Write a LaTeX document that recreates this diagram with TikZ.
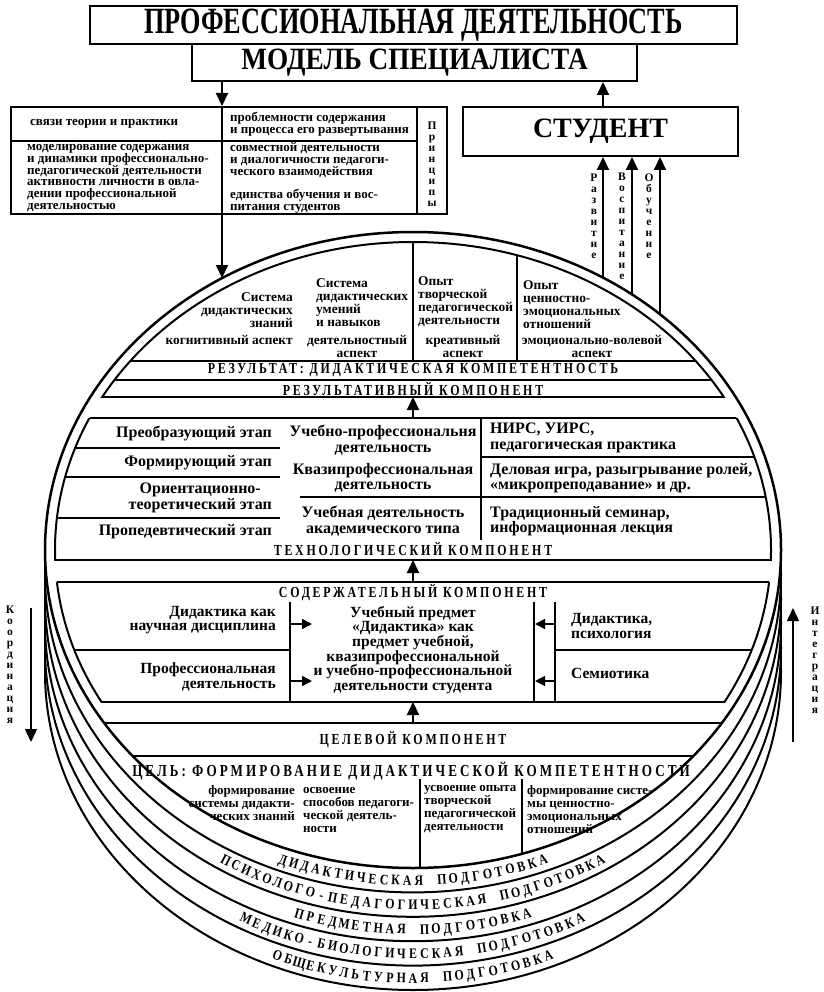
\documentclass[tikz,border=0pt]{standalone}
\usepackage{fontspec}
\setmainfont{Liberation Serif}
\newfontfamily\hdfont[LetterSpace=18,FakeStretch=0.78]{Liberation Serif}
\newfontfamily\arcfont[FakeStretch=0.82]{Liberation Serif}
\usetikzlibrary{arrows.meta}
\makeatletter
% letters placed one by one along the lower part of an ellipse
% #1 centre y of baseline ellipse, #2 number of slots, #3 step (deg), #4 letters (~ = space)
\newcommand\arctext[4]{%
  \def\at@i{0}%
  \@tfor\at@ch:=#4\do{%
    \pgfmathtruncatemacro\at@i{\at@i+1}%
    \pgfmathsetmacro\at@t{90+((#2+1)/2-\at@i)*#3}%
    \pgfmathsetmacro\at@x{413+368*cos(\at@t)}%
    \pgfmathsetmacro\at@y{#1+318*sin(\at@t)}%
    \pgfmathsetmacro\at@r{atan((318*cos(\at@t))/(368*sin(\at@t)))}%
    \node[arcl,rotate=\at@r] (arc#2-\at@i) at (\at@x,\at@y) {\at@ch};%
  }}
\makeatother
\begin{document}
\begin{tikzpicture}[x=1pt,y=-1pt,
  lw/.style={line width=2pt},
  bx/.style={draw,line width=2pt,inner sep=0pt},
  arr/.style={line width=2pt,-{Triangle[width=12pt,length=13pt]}},
  arrs/.style={line width=1.6pt,-{Triangle[width=10pt,length=10pt]}},
  arrside/.style={line width=1.4pt,-{Triangle[width=12pt,length=13pt]}},
  tp/.style={inner sep=0pt,font=\bfseries\fontsize{13}{11.8}\selectfont},
  ta/.style={inner sep=0pt,font=\bfseries\fontsize{13.4}{13}\selectfont},
  tt/.style={inner sep=0pt,font=\bfseries\fontsize{16}{15.5}\selectfont},
  tc/.style={inner sep=0pt,font=\bfseries\fontsize{15.5}{14.6}\selectfont},
  tg/.style={inner sep=0pt,font=\bfseries\fontsize{13}{13}\selectfont},
  hd/.style={inner sep=0pt,font=\hdfont\bfseries\fontsize{15.3}{15}\selectfont},
  vst/.style={inner sep=0pt,align=center,font=\bfseries\fontsize{11.5}{11}\selectfont},
  arcl/.style={inner sep=0pt,anchor=base,font=\arcfont\bfseries\fontsize{14.5}{14.5}\selectfont},
]
\useasboundingbox (0,0) rectangle (823,992);

% ---- stacked discs
\foreach \k in {5,4,3,2,1}{
  \draw[lw,fill=white] (413,{550+24.4*\k}) ellipse [x radius=368, y radius=318];
}
\draw[line width=2.5pt,fill=white] (413,550) ellipse [x radius=368, y radius=318];

\arctext{567.4}{24}{1.82}{ДИДАКТИЧЕСКАЯ~ПОДГОТОВКА}
\arctext{591.8}{35}{1.82}{ПСИХОЛОГО-ПЕДАГОГИЧЕСКАЯ~ПОДГОТОВКА}
\arctext{616.2}{21}{1.82}{ПРЕДМЕТНАЯ~ПОДГОТОВКА}
\arctext{640.6}{31}{1.82}{МЕДИКО-БИОЛОГИЧЕСКАЯ~ПОДГОТОВКА}
\arctext{665.0}{25}{1.82}{ОБЩЕКУЛЬТУРНАЯ~ПОДГОТОВКА}

% ---- result component
\begin{scope}
  \clip (0,0) rectangle (823,397);
  \draw[lw] (413,550) ellipse [x radius=358, y radius=308];
\end{scope}
\begin{scope}
  \clip (413,550) ellipse [x radius=358, y radius=308];
  \draw[lw] (0,361) -- (823,361) (0,380) -- (823,380) (0,397) -- (823,397)
            (413,200) -- (413,361) (517,200) -- (517,361);
\end{scope}

% ---- technological component
\begin{scope}
  \clip (0,418) rectangle (823,560);
  \draw[lw] (413,550) ellipse [x radius=358, y radius=308];
\end{scope}
\begin{scope}
  \clip (413,550) ellipse [x radius=358, y radius=308];
  \draw[lw] (0,418) -- (823,418) (0,560) -- (823,560)
            (0,448) -- (280,448) (0,477) -- (280,477) (0,518) -- (280,518)
            (481,457) -- (823,457) (300,497) -- (823,497) (481,418) -- (481,540);
\end{scope}

% ---- content component
\begin{scope}
  \clip (0,582) rectangle (823,702);
  \draw[lw] (413,550) ellipse [x radius=358, y radius=308];
\end{scope}
\begin{scope}
  \clip (413,550) ellipse [x radius=358, y radius=308];
  \draw[lw] (0,582) -- (823,582) (0,702) -- (823,702)
            (0,650) -- (290,650) (555,650) -- (823,650)
            (290,602) -- (290,702) (534,602) -- (534,702) (555,602) -- (555,702);
\end{scope}

% ---- goal component
\begin{scope}
  \clip (413,550) ellipse [x radius=368, y radius=318];
  \draw[lw] (0,723) -- (823,723) (0,756) -- (823,756)
            (420,779) -- (420,900) (522,779) -- (522,900);
\end{scope}

% ---- header
\node[bx,minimum width=647pt,minimum height=38pt] (pd) at (413.5,25)
  {\scalebox{0.71}[1]{\bfseries\fontsize{37}{37}\selectfont ПРОФЕССИОНАЛЬНАЯ ДЕЯТЕЛЬНОСТЬ}};
\node[bx,minimum width=445pt,minimum height=37pt] (ms) at (414.5,62.5)
  {\scalebox{0.88}[1]{\bfseries\fontsize{31}{31}\selectfont МОДЕЛЬ СПЕЦИАЛИСТА}};
\node[bx,minimum width=275pt,minimum height=49pt,font=\bfseries\fontsize{28}{28}\selectfont] (st) at (600.5,131.5) {СТУДЕНТ};

% ---- principles
\node[bx,minimum width=436pt,minimum height=107pt] (pr) at (229,160.5) {};
\draw[lw] (222,107) -- (222,214) (417,107) -- (417,214) (11,141) -- (417,141);
\node[tp,anchor=west] (p1) at (30,124) {связи теории и практики};
\node[tp,anchor=west,align=left] (p2) at (230,124) {проблемности содержания\\и процесса его развертывания};
\node[tp,anchor=west,align=left] (p3) at (27,178) {моделирование содержания\\и динамики профессионально-\\педагогической деятельности\\активности личности в овла-\\дении профессиональной\\деятельностью};
\node[tp,anchor=west,align=left] (p4) at (230,178) {совместной деятельности\\и диалогичности педагоги-\\ческого взаимодействия\\[11.8pt]единства обучения и вос-\\питания студентов};
\node[vst] (p5) at (432,164) {П\\р\\и\\н\\ц\\и\\п\\ы};

% ---- arrows top
\coordinate (xa) at (222,0);
\coordinate (xb) at (603,0);
\coordinate (c1) at (222,278);
\coordinate (d1) at (603,278.3);
\coordinate (d2) at (632,294.5);
\coordinate (d3) at (660,314.3);
\draw[arr] (ms.south -| xa) -- (pr.north -| xa);
\draw[arr] (st.north -| xb) -- (ms.south -| xb);
\draw[arr] (pr.south -| xa) -- (c1);
\draw[arr] (d1) -- (st.south -| d1);
\draw[arr] (d2) -- (st.south -| d2);
\draw[arr] (d3) -- (st.south -| d3);
\node[vst] (v1) at (594,216) {Р\\а\\з\\в\\и\\т\\и\\е};
\node[vst] (v2) at (622,226) {В\\о\\с\\п\\и\\т\\а\\н\\и\\е};
\node[vst] (v3) at (649,216) {О\\б\\у\\ч\\е\\н\\и\\е};

% ---- result texts
\node[ta,anchor=east,align=right] (a1) at (293,310) {Система\\дидактических\\знаний};
\node[ta,anchor=east] (a1b) at (293,340) {когнитивный аспект};
\node[ta,anchor=west,align=left] (a2) at (316,303) {Система\\дидактических\\умений\\и навыков};
\node[ta,align=center] (a2b) at (357,346) {деятельностный\\аспект};
\node[ta,anchor=west,align=left] (a3) at (418,302) {Опыт\\творческой\\педагогической\\деятельности};
\node[ta,align=center] (a3b) at (463,346) {креативный\\аспект};
\node[ta,anchor=west,align=left] (a4) at (523,305) {Опыт\\ценностно-\\эмоциональных\\отношений};
\node[ta,align=center] (a4b) at (592,346) {эмоционально-волевой\\аспект};
\node[hd] (r1) at (413,370.5) {РЕЗУЛЬТАТ: ДИДАКТИЧЕСКАЯ КОМПЕТЕНТНОСТЬ};
\node[hd] (r2) at (413,389) {РЕЗУЛЬТАТИВНЫЙ КОМПОНЕНТ};

% ---- technology texts
\node[tt,anchor=east] (t1) at (272,433) {Преобразующий этап};
\node[tt,anchor=east] (t2) at (272,463) {Формирующий этап};
\node[tt,anchor=east,align=center] (t3) at (272,498) {Ориентационно-\\теоретический этап};
\node[tt,anchor=east] (t4) at (272,532) {Пропедевтический этап};
\node[tt,align=center] (t5) at (383,440) {Учебно-профессиональня\\деятельность};
\node[tt,align=center] (t6) at (383,478) {Квазипрофессиональная\\деятельность};
\node[tt,align=center] (t7) at (383,521) {Учебная деятельность\\академического типа};
\node[tt,anchor=west,align=left] (t8) at (490,438) {НИРС, УИРС,\\педагогическая практика};
\node[tt,anchor=west,align=left] (t9) at (490,478) {Деловая игра, разыгрывание ролей,\\«микропреподавание» и др.};
\node[tt,anchor=west,align=left] (t10) at (490,521) {Традиционный семинар,\\информационная лекция};
\node[hd] (t11) at (413,549) {ТЕХНОЛОГИЧЕСКИЙ КОМПОНЕНТ};

% ---- content texts
\node[hd] (s0) at (413,593) {СОДЕРЖАТЕЛЬНЫЙ КОМПОНЕНТ};
\node[tc,anchor=east,align=right] (s1) at (276,620) {Дидактика как\\научная дисциплина};
\node[tc,anchor=east,align=right] (s2) at (276,677) {Профессиональная\\деятельность};
\node[tc,align=center] (s3) at (413,650) {Учебный предмет\\«Дидактика» как\\предмет учебной,\\квазипрофессиональной\\и учебно-профессиональной\\деятельности студента};
\node[tc,anchor=west,align=left] (s4) at (571,626) {Дидактика,\\психология};
\node[tc,anchor=west] (s5) at (571,673) {Семиотика};
\coordinate (l1) at (290,624); \coordinate (l1e) at (312,624);
\coordinate (l2) at (290,681); \coordinate (l2e) at (312,681);
\coordinate (r1a) at (555,624); \coordinate (r1e) at (535,624);
\coordinate (r2a) at (555,681); \coordinate (r2e) at (535,681);
\draw[arrs] (l1) -- (l1e);
\draw[arrs] (l2) -- (l2e);
\draw[arrs] (r1a) -- (r1e);
\draw[arrs] (r2a) -- (r2e);

% ---- goal texts
\node[hd] (g0) at (413,740) {ЦЕЛЕВОЙ КОМПОНЕНТ};
\node[hd,font=\hdfont\bfseries\fontsize{16.8}{16}\selectfont] (g1) at (411,771) {ЦЕЛЬ: ФОРМИРОВАНИЕ ДИДАКТИЧЕСКОЙ КОМПЕТЕНТНОСТИ};
\node[tg,anchor=east,align=right] (g2) at (295,803) {формирование\\системы дидакти-\\ческих знаний};
\node[tg,anchor=west,align=left] (g3) at (303,809.5) {освоение\\способов педагоги-\\ческой деятель-\\ности};
\node[tg,anchor=west,align=left] (g4) at (424,809.5) {усвоение опыта\\творческой\\педагогической\\деятельности};
\node[tg,anchor=west,align=left] (g5) at (527,809.5) {формирование систе-\\мы ценностно-\\эмоциональных\\отношений};

% ---- arrows between components
\coordinate (m1) at (413,418); \coordinate (m1e) at (413,397);
\coordinate (m2) at (413,582); \coordinate (m2e) at (413,560);
\coordinate (m3) at (413,723); \coordinate (m3e) at (413,702);
\draw[arr] (m1) -- (m1e);
\draw[arr] (m2) -- (m2e);
\draw[arr] (m3) -- (m3e);

% ---- side arrows
\coordinate (k1) at (31,608); \coordinate (k2) at (31,742);
\coordinate (i1) at (793,742); \coordinate (i2) at (793,608);
\draw[arrside] (k1) -- (k2);
\draw[arrside] (i1) -- (i2);
\node[vst] (kt) at (10,665) {К\\о\\о\\р\\д\\и\\н\\а\\ц\\и\\я};
\node[vst] (it) at (815,660) {И\\н\\т\\е\\г\\р\\а\\ц\\и\\я};
\end{tikzpicture}
\end{document}
